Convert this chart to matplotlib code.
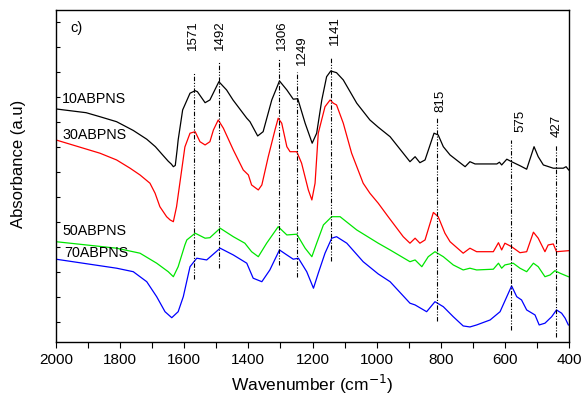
import matplotlib
matplotlib.use("Agg")
import matplotlib.pyplot as plt
import numpy as np

plt.rcParams['font.family'] = ['Liberation Sans', 'DejaVu Sans']

# ---- data ----
wn_10 = [2000, 1906, 1863, 1811, 1759, 1717, 1690, 1666, 1650, 1640, 1634, 1628, 1622, 1619, 1605,
         1582, 1566, 1559, 1535, 1520, 1492, 1468, 1448, 1405, 1395, 1371, 1354, 1327, 1303, 1280,
         1260, 1246, 1223, 1201, 1187, 1171, 1156, 1143, 1125, 1104, 1062, 1021, 995, 958, 896, 880,
         865, 849, 821, 808, 792, 771, 724, 709, 693, 625, 617, 610, 594, 579, 553, 532, 509, 496,
         480, 449, 418, 409, 401]
ab_10 = [8.51, 8.36, 8.20, 8.00, 7.65, 7.30, 7.00, 6.65, 6.42, 6.30, 6.20, 6.25, 6.90, 7.27, 8.47,
         9.14, 9.24, 9.20, 8.76, 8.87, 9.60, 9.27, 8.87, 8.14, 8.00, 7.43, 7.60, 8.87, 9.63, 9.27,
         8.90, 8.92, 7.94, 7.14, 7.54, 8.87, 9.80, 10.03, 9.96, 9.67, 8.74, 8.07, 7.78, 7.40, 6.40, 6.60,
         6.36, 6.47, 7.54, 7.47, 7.00, 6.67, 6.20, 6.40, 6.31, 6.31, 6.38, 6.27, 6.50, 6.40, 6.24, 6.10,
         7.00, 6.60, 6.27, 6.14, 6.14, 6.20, 6.07]

wn_30 = [2000, 1863, 1811, 1769, 1738, 1707, 1691, 1676, 1655, 1644, 1634, 1624, 1608, 1598, 1582,
         1566, 1551, 1535, 1520, 1509, 1494, 1478, 1447, 1416, 1400, 1390, 1369, 1358, 1338, 1317,
         1307, 1296, 1280, 1270, 1249, 1234, 1213, 1202, 1192, 1182, 1161, 1145, 1135, 1125, 1104,
         1078, 1042, 1021, 995, 964, 917, 896, 880, 865, 849, 823, 808, 787, 771, 730, 709, 688, 636,
         620, 610, 600, 579, 553, 532, 511, 496, 475, 465, 449, 439, 402]
ab_30 = [7.27, 6.74, 6.47, 6.14, 5.87, 5.54, 5.14, 4.60, 4.20, 4.07, 4.00, 4.60, 6.07, 6.99, 7.54,
         7.60, 7.20, 7.07, 7.20, 7.67, 8.07, 7.74, 6.87, 6.07, 5.87, 5.47, 5.27, 5.47, 6.60, 7.67,
         8.14, 7.94, 7.00, 6.80, 6.80, 6.34, 5.27, 4.87, 5.54, 7.54, 8.60, 8.87, 8.74, 8.67, 7.94,
         6.74, 5.54, 5.14, 4.74, 4.20, 3.40, 3.14, 3.34, 3.14, 3.27, 4.37, 4.20, 3.54, 3.20, 2.74, 2.94,
         2.80, 2.80, 3.16, 2.87, 3.14, 3.00, 2.76, 2.80, 3.58, 3.34, 2.80, 3.07, 3.11, 2.80, 2.84]

wn_50 = [2000, 1811, 1738, 1686, 1650, 1634, 1619, 1598, 1592, 1566, 1535, 1520, 1488, 1447, 1411,
         1390, 1369, 1343, 1307, 1280, 1249, 1223, 1202, 1187, 1166, 1140, 1114, 1062, 995, 958,
         896, 880, 859, 839, 818, 792, 761, 730, 709, 688, 636, 620, 610, 600, 574, 553, 532, 511,
         496, 475, 459, 444, 428, 402]
ab_50 = [3.20, 2.94, 2.74, 2.34, 2.00, 1.80, 2.20, 3.07, 3.27, 3.54, 3.34, 3.36, 3.74, 3.40, 3.14,
         2.80, 2.60, 3.14, 3.80, 3.47, 3.50, 2.94, 2.60, 3.14, 3.87, 4.20, 4.20, 3.67, 3.14, 2.87,
         2.40, 2.47, 2.20, 2.60, 2.80, 2.60, 2.27, 2.07, 2.14, 2.07, 2.10, 2.34, 2.14, 2.27, 2.34,
         2.14, 2.00, 2.34, 2.20, 1.80, 1.87, 2.04, 1.94, 1.80]

wn_70 = [2000, 1811, 1759, 1717, 1686, 1660, 1639, 1619, 1603, 1582, 1561, 1530, 1488, 1447,
         1405, 1385, 1358, 1333, 1303, 1280, 1260, 1244, 1218, 1197, 1182, 1161, 1140, 1125, 1093,
         1042, 995, 958, 896, 880, 844, 818, 792, 761, 730, 709, 688, 646, 615, 594, 579, 563, 548,
         532, 506, 493, 475, 454, 439, 423, 412, 402]
ab_70 = [2.50, 2.14, 2.00, 1.60, 1.00, 0.40, 0.16, 0.40, 1.00, 2.20, 2.54, 2.47, 2.94, 2.67,
         2.34, 1.74, 1.60, 2.07, 2.87, 2.67, 2.50, 2.54, 2.00, 1.34, 1.94, 2.74, 3.34, 3.40, 3.14,
         2.40, 1.91, 1.60, 0.74, 0.67, 0.40, 0.80, 0.60, 0.20, -0.17, -0.21, -0.13, 0.07, 0.40, 1.00,
         1.43, 1.00, 0.87, 0.47, 0.27, -0.13, -0.06, 0.20, 0.47, 0.34, 0.14, -0.13]

series_names = ["10ABPNS", "30ABPNS", "50ABPNS", "70ABPNS"]
series_colors = ["black", "#ff0000", "#00e600", "#0000ff"]

# peak markers: label, line position, line top, line bottom
peak_labels = ["1571", "1492", "1306", "1249", "1141", "815", "575", "427"]
peak_pos = [1569, 1491, 1305, 1249, 1142, 813, 582, 441]
peak_top = [9.95, 10.39, 10.55, 9.99, 10.59, 8.19, 7.27, 7.07]
peak_bot = [1.71, 2.14, 2.27, 1.80, 2.43, 0.04, -0.33, -0.60]
label_pos = [1572, 1488, 1296, 1234, 1130, 802, 553, 438]
label_bot = [10.87, 10.87, 10.87, 10.27, 11.07, 8.39, 7.59, 7.39]

name_pos = [1981, 1981, 1981, 1975]
name_y = [8.90, 7.47, 3.64, 2.74]

x_ticks = [2000, 1800, 1600, 1400, 1200, 1000, 800, 600, 400]

# ---- plot ----
fig = plt.figure(figsize=(5.82, 4.01), dpi=100)
ax = fig.add_axes([56 / 582, 59 / 401, 513 / 582, 332 / 401])

data = [(wn_10, ab_10), (wn_30, ab_30), (wn_50, ab_50), (wn_70, ab_70)]
for (w, a), c in zip(data, series_colors):
    ax.plot(w, a, color=c, lw=0.9)

for p, t, b in zip(peak_pos, peak_top, peak_bot):
    ax.plot([p, p], [b, t], color="black", lw=0.8, dashes=(4, 1.5, 1, 1.5, 1, 1.5))

for lab, p, yb in zip(peak_labels, label_pos, label_bot):
    ax.text(p, yb, lab, rotation=90, ha="center", va="bottom", fontsize=9.5,
            family=['Liberation Sans Narrow', 'Liberation Sans', 'DejaVu Sans'])

for n, p, y in zip(series_names, name_pos, name_y):
    ax.text(p, y, n, ha="left", va="center", fontsize=10.3)

ax.text(1956, 11.75, "c)", ha="left", va="center", fontsize=10.5)

ax.set_xlim(2000, 400)
ax.set_ylim(-0.812, 12.468)
ax.set_xticks(x_ticks)
ax.set_xticks(np.arange(400, 2001, 100), minor=True)
ax.set_yticks(np.arange(0, 13, 1))
ax.set_yticklabels([])
ax.tick_params(axis="x", which="both", direction="out", length=4, width=0.8, labelsize=11, pad=4)
ax.tick_params(axis="y", which="both", direction="in", length=3, width=0.8)
for s in ax.spines.values():
    s.set_linewidth(1.0)

ax.set_xlabel("Wavenumber (cm$^{-1}$)", fontsize=12.5, labelpad=4)
ax.set_ylabel("Absorbance (a.u)", fontsize=12)
ax.yaxis.set_label_coords(-0.058, 0.536)

fig.savefig("out.png", dpi=100)
